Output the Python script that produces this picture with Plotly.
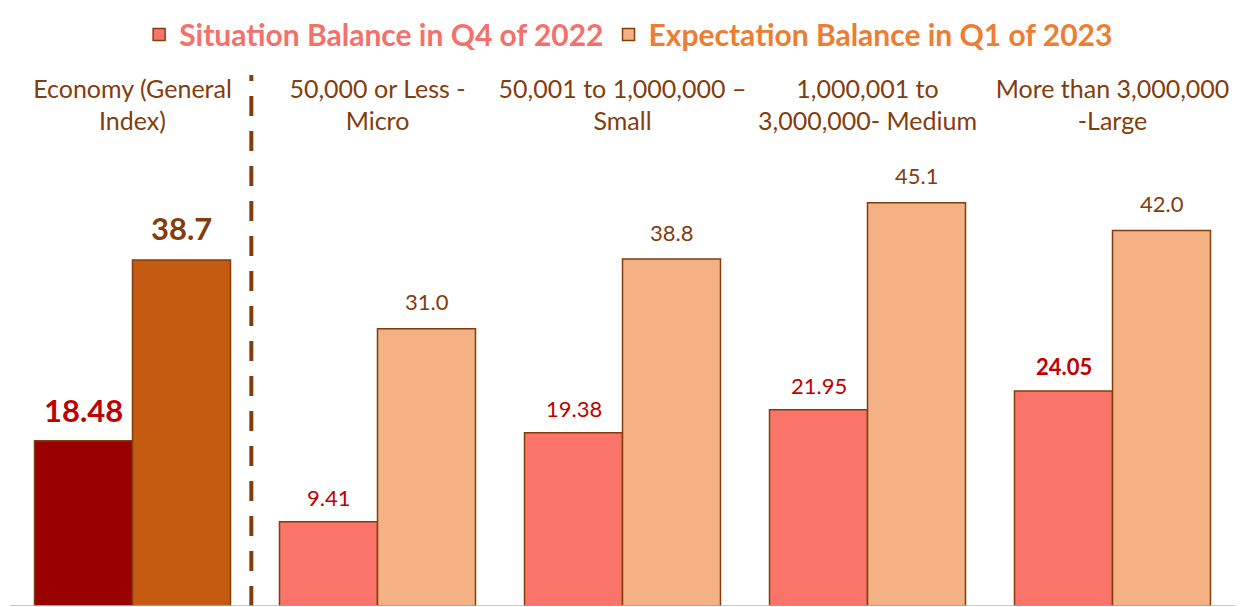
import plotly.graph_objects as go

categories = ["Economy (General<br>Index)", "50,000 or Less -<br>Micro",
              "50,001 to 1,000,000 –<br>Small", "1,000,001 to<br>3,000,000- Medium",
              "More than 3,000,000<br>-Large"]
situation = [18.48, 9.41, 19.38, 21.95, 24.05]
expectation = [38.7, 31.0, 38.8, 45.1, 42.0]
series_names = ["Situation Balance in Q4 of 2022", "Expectation Balance in Q1 of 2023"]

BORDER = "#843C0C"
FONT = "Lato"

fig = go.Figure()
# economy (general index) bars with darker colors
fig.add_trace(go.Bar(x=categories[:1], y=situation[:1], offsetgroup="s", showlegend=False,
                     marker=dict(color="#990000", line=dict(color=BORDER, width=1.5)), hoverinfo="skip"))
fig.add_trace(go.Bar(x=categories[:1], y=expectation[:1], offsetgroup="e", showlegend=False,
                     marker=dict(color="#C55A11", line=dict(color=BORDER, width=1.5)), hoverinfo="skip"))
fig.add_trace(go.Bar(x=categories[1:], y=situation[1:], offsetgroup="s",
                     name=f"<span style='color:#F4716B'><b>{series_names[0]}</b></span>",
                     marker=dict(color="#FB746A", line=dict(color=BORDER, width=1.5))))
fig.add_trace(go.Bar(x=categories[1:], y=expectation[1:], offsetgroup="e",
                     name=f"<span style='color:#ED7D31'><b>{series_names[1]}</b></span>",
                     marker=dict(color="#F4B183", line=dict(color=BORDER, width=1.5))))

annotations = []
for i, cat in enumerate(categories):
    big = i == 0
    annotations.append(dict(x=cat, y=situation[i], xref="x", yref="y", text=f"{situation[i]:.2f}",
                            showarrow=False, xshift=-49, yshift=31 if big else 24, yanchor="middle",
                            font=dict(family=FONT, size=31 if big else 22, color="#C00000",
                                      weight="bold" if (big or i == 4) else "normal")))
    annotations.append(dict(x=cat, y=expectation[i], xref="x", yref="y", text=f"{expectation[i]:.1f}",
                            showarrow=False, xshift=49, yshift=32 if big else 27, yanchor="middle",
                            font=dict(family=FONT, size=31 if big else 22, color=BORDER,
                                      weight="bold" if big else "normal")))

fig.update_layout(
    width=1243, height=607,
    margin=dict(l=2, r=16, t=128, b=9),
    plot_bgcolor="white", paper_bgcolor="white",
    barmode="group", bargap=0.2, bargroupgap=0,
    annotations=annotations,
    legend=dict(orientation="h", x=0.505, xanchor="center", y=0.999, yref="container",
                yanchor="top", font=dict(family=FONT, size=30), traceorder="normal",
                itemwidth=30),
    xaxis=dict(side="top", showline=False, showgrid=False, ticks="",
               tickfont=dict(family=FONT, size=25, color=BORDER)),
    yaxis=dict(range=[0, 52.57], visible=False),
    shapes=[
        dict(type="line", xref="x", yref="paper", x0=0.485, x1=0.485, y0=0, y1=1.13,
             line=dict(color=BORDER, width=4, dash="20px,15px")),
        dict(type="line", xref="paper", yref="y", x0=0, x1=1, y0=0, y1=0,
             line=dict(color="#D9B08C", width=1.5)),
    ],
)

fig.write_html("out.html")
